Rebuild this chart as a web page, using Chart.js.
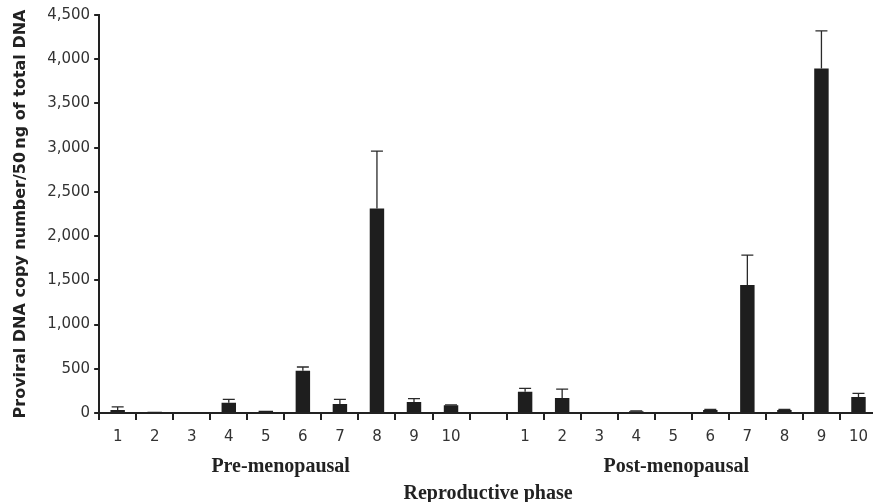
<!doctype html>
<html>
<head>
<title>Proviral DNA copy number by reproductive phase</title>
<script src="https://cdn.jsdelivr.net/npm/chart.js@4.4.0/dist/chart.umd.min.js"></script>
<style>
    html, body { margin: 0; padding: 0; background: #fff; overflow: hidden; }
    #wrap { width: 878px; height: 502px; }
</style>
</head>

<body>
<div id="wrap"><canvas id="chart" width="878" height="502"></canvas></div>
<script>
    // two groups of 10 samples, one empty slot between them
    const preLabels = ['1', '2', '3', '4', '5', '6', '7', '8', '9', '10'];
    const postLabels = ['1', '2', '3', '4', '5', '6', '7', '8', '9', '10'];
    const preValues = [35, 15, 0, 115, 25, 478, 102, 2313, 124, 87];
    const preErrors = [35, 0, 0, 40, 0, 42, 53, 648, 38, 5];
    const postValues = [241, 170, 0, 20, 10, 35, 1446, 35, 3895, 181];
    const postErrors = [38, 101, 0, 5, 0, 5, 339, 5, 425, 41];
    const yTicks = [0, 500, 1000, 1500, 2000, 2500, 3000, 3500, 4000, 4500];
    const groupNames = ['Pre-menopausal', 'Post-menopausal'];

    const labels = preLabels.concat([''], postLabels);
    const values = preValues.concat([null], postValues);
    const errors = preErrors.concat([null], postErrors);

    const ink = '#1e1e1e';

    // upper error whiskers + group names under the axis
    const extras = {
        id: 'extras',
        afterDatasetsDraw(chart) {
            const ctx = chart.ctx;
            const y = chart.scales.y;
            const x = chart.scales.x;
            const meta = chart.getDatasetMeta(0);
            ctx.save();
            ctx.strokeStyle = '#2a2a2a';
            ctx.lineWidth = 1.3;
            meta.data.forEach((bar, i) => {
                if (values[i] == null || !errors[i]) return;
                const top = y.getPixelForValue(values[i] + errors[i]);
                ctx.beginPath();
                ctx.moveTo(bar.x, bar.y);
                ctx.lineTo(bar.x, top);
                ctx.moveTo(bar.x - 6, top);
                ctx.lineTo(bar.x + 6, top);
                ctx.stroke();
            });
            ctx.fillStyle = '#222';
            ctx.font = 'bold 20px "Liberation Serif"';
            ctx.textAlign = 'center';
            ctx.textBaseline = 'middle';
            ctx.fillText(groupNames[0], x.getPixelForValue(4.4), 467);
            ctx.fillText(groupNames[1], x.getPixelForValue(15.08), 467);
            ctx.restore();
        }
    };

    const ctx = document.getElementById('chart');
    const myChart = new Chart(ctx, {
        type: 'bar',
        data: {
            labels: labels,
            datasets: [{
                data: values,
                backgroundColor: ink,
                borderWidth: 0,
                barPercentage: 0.39,
                categoryPercentage: 1
            }]
        },
        options: {
            responsive: false,
            animation: false,
            devicePixelRatio: 1,
            layout: { padding: { left: 3, right: 1, top: 15, bottom: 0 } },
            plugins: {
                legend: { display: false },
                tooltip: { enabled: false }
            },
            scales: {
                x: {
                    grid: {
                        display: true,
                        offset: true,
                        drawOnChartArea: false,
                        drawTicks: true,
                        tickLength: 7,
                        color: '#222',
                        lineWidth: 2
                    },
                    border: { color: '#222', width: 2 },
                    ticks: {
                        color: '#333',
                        padding: 8,
                        maxRotation: 0,
                        autoSkip: false,
                        font: { family: 'DejaVu Sans', size: 15 }
                    },
                    title: {
                        display: true,
                        text: 'Reproductive phase',
                        color: '#222',
                        font: { family: 'Liberation Serif', size: 20, weight: 'bold', lineHeight: 1 },
                        padding: { top: 30, bottom: -2 }
                    }
                },
                y: {
                    min: 0,
                    max: 4500,
                    afterBuildTicks: (scale) => { scale.ticks = yTicks.map(v => ({ value: v })); },
                    grid: {
                        display: true,
                        drawOnChartArea: false,
                        drawTicks: true,
                        tickLength: 5,
                        color: '#222',
                        lineWidth: 2
                    },
                    border: { color: '#222', width: 2 },
                    ticks: {
                        color: '#333',
                        padding: 4,
                        font: { family: 'DejaVu Sans', size: 15 },
                        callback: (v) => Number(v).toLocaleString('en-US')
                    },
                    title: {
                        display: true,
                        text: 'Proviral DNA copy number/50\u2009ng of total DNA',
                        color: '#222',
                        font: { family: 'DejaVu Sans', size: 16, weight: 'bold' },
                        padding: { top: 8, bottom: 13 }
                    }
                }
            }
        },
        plugins: [extras]
    });
</script>

</body>
</html>
